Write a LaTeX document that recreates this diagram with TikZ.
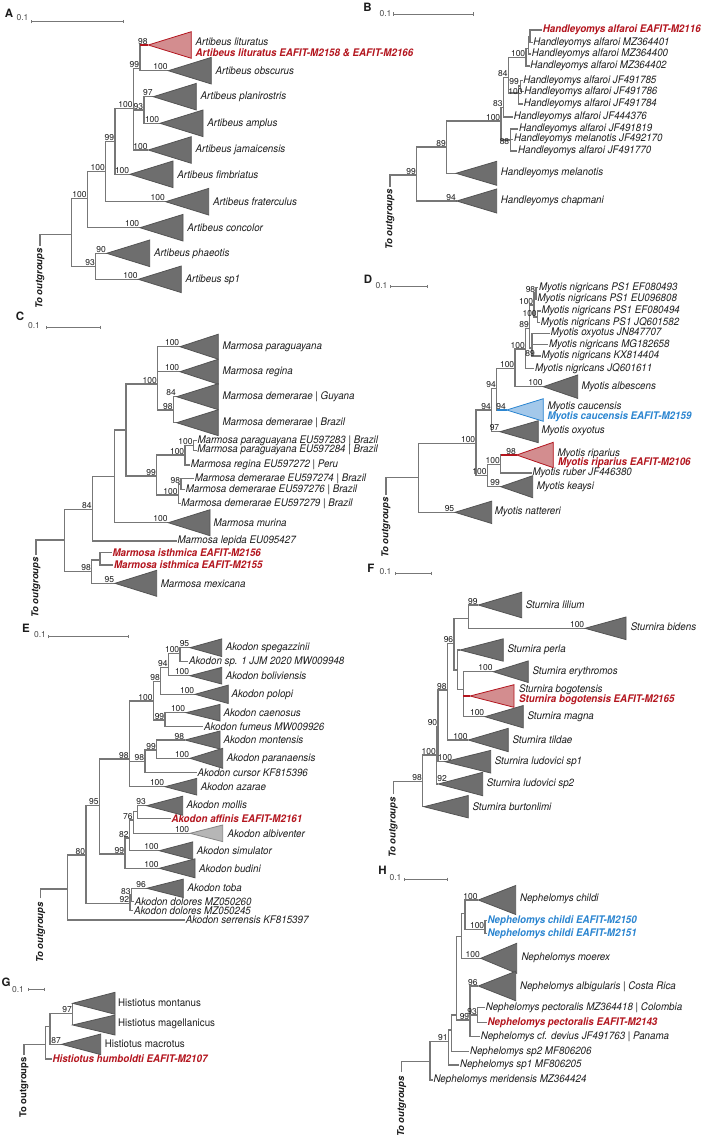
\documentclass[tikz,border=0pt]{standalone}
\usepackage{fontspec}
\setmainfont{TeX Gyre Heros}
\newfontfamily\taxfont{TeX Gyre Heros}[FakeStretch=0.93]
\usepackage{tikz}
\usetikzlibrary{arrows.meta}
\definecolor{BranchGray}{HTML}{777777}
\definecolor{CladeFill}{HTML}{6E6E6E}
\definecolor{CladeEdge}{HTML}{545454}
\definecolor{PaleFill}{HTML}{B6B6B6}
\definecolor{NewRed}{HTML}{B3151E}
\definecolor{NewRedFill}{HTML}{D38D8F}
\definecolor{NewBlue}{HTML}{2B85D0}
\definecolor{NewBlueFill}{HTML}{A3C8EA}
\definecolor{Ink}{HTML}{1C1C1C}
\tikzset{
  branchline/.style={draw=BranchGray, line width=1.2pt},
  cladetri/.style={draw=CladeEdge, fill=CladeFill, line width=0.8pt},
  redtri/.style={draw=NewRed, fill=NewRedFill, line width=0.8pt},
  bluetri/.style={draw=NewBlue, fill=NewBlueFill, line width=0.8pt},
  paletri/.style={draw=CladeEdge!70, fill=PaleFill, line width=0.8pt},
  taxon/.style={anchor=west, inner sep=0.6pt, text=Ink, font=\taxfont\fontsize{10.5}{11.5}\selectfont\itshape},
  taxonred/.style={taxon, text=NewRed, font=\taxfont\fontsize{10.5}{11.5}\selectfont\bfseries\itshape},
  taxonblue/.style={taxonred, text=NewBlue},
  taxonup/.style={taxon, font=\taxfont\fontsize{10.5}{11.5}\selectfont},
  support/.style={anchor=south east, inner sep=0.6pt, text=Ink, font=\fontsize{8.5}{9}\selectfont},
  outgroup/.style={rotate=90, anchor=east, inner sep=0pt, text=Ink, font=\fontsize{9.5}{10}\selectfont\bfseries\itshape},
  panellabel/.style={inner sep=0pt, text=Ink, font=\fontsize{11.5}{12}\selectfont\bfseries},
  scalelabel/.style={inner sep=0pt, text=Ink!80, font=\fontsize{8.5}{9}\selectfont},
  scalebar/.style={draw=BranchGray, line width=0.9pt, {Bar[width=3.5pt]}-{Bar[width=3.5pt]}}
}
% collapsed clade: apex, width, half height
\newcommand{\cladetriangle}[4][cladetri]{\draw[#1] (#2) -- ++(#3,-#4) -- ++(0,2*#4) -- cycle;}

\begin{document}
\begin{tikzpicture}[x=1pt, y=-1pt]
  \useasboundingbox (0,0) rectangle (709,1143);

  % A -- Artibeus
  \node[panellabel] (pA) at (9,13) {A};
  \node[scalelabel] (kA) at (22.5,17.5) {0.1};
  \coordinate (sbA1) at (31,21.7);
  \coordinate (sbA2) at (124,21.7);
  \draw[scalebar] (sbA1) -- (sbA2);

  \coordinate (aOut) at (40,246);
  \coordinate (aR) at (71.7,234.3);
  \coordinate (a1) at (87.3,198.3);
  \coordinate (a2) at (105.7,171.7);
  \coordinate (a3) at (115,141.7);
  \coordinate (a4) at (133.3,108.3);
  \coordinate (a5) at (140,68.3);
  \coordinate (a6) at (144,110);
  \coordinate (a7) at (95.7,266.7);
  \coordinate (aLit) at (148.3,45);
  \coordinate (aObs) at (168.3,70.7);
  \coordinate (aPla) at (153.3,96.7);
  \coordinate (aAmp) at (160,123.3);
  \coordinate (aJam) at (148.3,150);
  \coordinate (aFim) at (130,174.3);
  \coordinate (aFra) at (165.7,201.7);
  \coordinate (aCon) at (140,227.7);
  \coordinate (aPha) at (106.7,253.3);
  \coordinate (aSp1) at (138.3,279.3);

  \draw[branchline] (aOut) |- (aR);
  \draw[branchline] (aR) |- (a1) (aR) |- (a7);
  \draw[branchline] (a1) |- (a2) (a1) |- (aCon);
  \draw[branchline] (a2) |- (a3) (a2) |- (aFra);
  \draw[branchline] (a3) |- (a4) (a3) |- (aFim);
  \draw[branchline] (a4) |- (a5) (a4) |- (a6) (a4) |- (aJam);
  \draw[branchline] (a5) |- (aLit) (a5) |- (aObs);
  \draw[branchline, draw=NewRed] (aLit -| a5) -- (aLit);
  \draw[branchline] (a6) |- (aPla) (a6) |- (aAmp);
  \draw[branchline] (a7) |- (aPha) (a7) |- (aSp1);

  \cladetriangle[redtri]{aLit}{43}{13.3}
  \cladetriangle{aObs}{43}{13.3}
  \cladetriangle{aPla}{43}{13.3}
  \cladetriangle{aAmp}{43}{13.3}
  \cladetriangle{aJam}{43}{13.3}
  \cladetriangle{aFim}{43}{13.3}
  \cladetriangle{aFra}{43}{13.3}
  \cladetriangle{aCon}{43}{13.3}
  \cladetriangle{aPha}{43}{13.3}
  \cladetriangle{aSp1}{43}{13.3}

  \node[taxon] (nLit) at (194.8,42) {Artibeus lituratus};
  \node[taxonred] (nLitNew) at (194.8,52.5) {Artibeus lituratus EAFIT-M2158 \& EAFIT-M2166};
  \node[taxon] (nObs) at (214.8,70.7) {Artibeus obscurus};
  \node[taxon] (nPla) at (199.8,96.7) {Artibeus planirostris};
  \node[taxon] (nAmp) at (206.5,123.3) {Artibeus amplus};
  \node[taxon] (nJam) at (194.8,150) {Artibeus jamaicensis};
  \node[taxon] (nFim) at (176.5,174.3) {Artibeus fimbriatus};
  \node[taxon] (nFra) at (212.2,201.7) {Artibeus fraterculus};
  \node[taxon] (nCon) at (186.5,227.7) {Artibeus concolor};
  \node[taxon] (nPha) at (153.2,253.3) {Artibeus phaeotis};
  \node[taxon] (nSp1) at (184.8,279.3) {Artibeus sp1};

  \node[support] (bsA1) at (a1) {100};
  \node[support] (bsA2) at (a2) {100};
  \node[support] (bsA3) at (a3) {99};
  \node[support] (bsA4) at (a4) {100};
  \node[support] (bsA5) at (a5) {99};
  \node[support] (bsA6) at (a6) {93};
  \node[support] (bsA7) at (a7) {93};
  \node[support] (bsALit) at (aLit) {98};
  \node[support] (bsAObs) at (aObs) {100};
  \node[support] (bsAPla) at (aPla) {97};
  \node[support] (bsAAmp) at (aAmp) {100};
  \node[support] (bsAJam) at (aJam) {100};
  \node[support] (bsAFim) at (aFim) {100};
  \node[support] (bsAFra) at (aFra) {100};
  \node[support] (bsACon) at (aCon) {100};
  \node[support] (bsAPha) at (aPha) {90};
  \node[support] (bsASp1) at (aSp1) {100};
  \node[outgroup] (oA) at (40,248) {To outgroups};

  % B -- Handleyomys
  \node[panellabel] (pB) at (367.5,7) {B};
  \node[scalelabel] (kB) at (385.5,13.5) {0.1};
  \coordinate (sbB1) at (393.3,14);
  \coordinate (sbB2) at (474,14);
  \draw[scalebar] (sbB1) -- (sbB2);

  \coordinate (bOut) at (390,187);
  \coordinate (bR) at (416.7,175);
  \coordinate (b1) at (446.7,147);
  \coordinate (b2) at (501,121);
  \coordinate (b3) at (503.3,107.3);
  \coordinate (b4) at (508.3,77.3);
  \coordinate (b5) at (526,57.3);
  \coordinate (b6) at (518.5,93);
  \coordinate (b7) at (520.5,86);
  \coordinate (b8) at (510.7,140);
  \coordinate (b9) at (528.3,48.3);
  \coordinate (b10) at (530,36.7);
  \coordinate (bMel) at (456,173.3);
  \coordinate (bCha) at (456.7,201);

  \node[taxonred] (lB1) at (542,30) {Handleyomys alfaroi EAFIT-M2116};
  \node[taxon] (lB2) at (532.5,42.7) {Handleyomys alfaroi MZ364401};
  \node[taxon] (lB3) at (531,54) {Handleyomys alfaroi MZ364400};
  \node[taxon] (lB4) at (529.5,66) {Handleyomys alfaroi MZ364402};
  \node[taxon] (lB5) at (522.5,80.7) {Handleyomys alfaroi JF491785};
  \node[taxon] (lB6) at (523.5,91.7) {Handleyomys alfaroi JF491786};
  \node[taxon] (lB7) at (523,104) {Handleyomys alfaroi JF491784};
  \node[taxon] (lB8) at (513,117) {Handleyomys alfaroi JF444376};
  \node[taxon] (lB9) at (518.3,129) {Handleyomys alfaroi JF491819};
  \node[taxon] (lB10) at (513.3,139.3) {Handleyomys melanotis JF492170};
  \node[taxon] (lB11) at (517.3,151) {Handleyomys alfaroi JF491770};

  \draw[branchline] (bOut) |- (bR);
  \draw[branchline] (bR) |- (b1) (bR) |- (bCha);
  \draw[branchline] (b1) |- (b2) (b1) |- (bMel);
  \draw[branchline] (b2) |- (b3) (b2) |- (b8);
  \draw[branchline] (b3) |- (b4) (b3) |- (lB8.west);
  \draw[branchline] (b4) |- (b5) (b4) |- (b6);
  \draw[branchline] (b5) |- (b9) (b5) |- (lB4.west);
  \draw[branchline] (b9) |- (b10) (b9) |- (lB3.west);
  \draw[branchline] (b10) |- (lB1.west) (b10) |- (lB2.west);
  \draw[branchline] (b6) |- (b7) (b6) |- (lB7.west);
  \draw[branchline] (b7) |- (lB5.west) (b7) |- (lB6.west);
  \draw[branchline] (b8) |- (lB9.west) (b8) |- (lB10.west) (b8) |- (lB11.west);

  \cladetriangle{bMel}{40.7}{12}
  \cladetriangle{bCha}{40}{12}
  \node[taxon] (nMel) at (500,173.3) {Handleyomys melanotis};
  \node[taxon] (nCha) at (500,201) {Handleyomys chapmani};

  \node[support] (bsBR) at (bR) {99};
  \node[support] (bsB1) at (b1) {89};
  \node[support] (bsB2) at (b2) {100};
  \node[support] (bsB3) at (b3) {83};
  \node[support] (bsB4) at (b4) {84};
  \node[support] (bsB5) at (b5) {100};
  \node[support, anchor=center] (bsB6) at (515.5,92) {100};
  \node[support, anchor=center] (bsB7) at (514,82) {99};
  \node[support, anchor=east] (bsB8) at (510,141.5) {88};
  \node[support] (bsBCha) at (bCha) {94};
  \node[outgroup] (oB) at (390,189) {To outgroups};

  % C -- Marmosa
  \node[panellabel] (pC) at (20,316.5) {C};
  \node[scalelabel] (kC) at (34,325.5) {0.1};
  \coordinate (sbC1) at (46,327.3);
  \coordinate (sbC2) at (100.7,327.3);
  \draw[scalebar] (sbC1) -- (sbC2);

  \coordinate (cOut) at (36,555);
  \coordinate (cR) at (64.3,540);
  \coordinate (c1) at (92.3,509.3);
  \coordinate (c2) at (114.3,476.7);
  \coordinate (c3) at (126,430);
  \coordinate (c4) at (157.7,384);
  \coordinate (c5) at (173.3,410);
  \coordinate (c6) at (156.7,476);
  \coordinate (c7) at (185,455);
  \coordinate (c8) at (193.3,445.5);
  \coordinate (c9) at (178.3,495);
  \coordinate (c10) at (181,484);
  \coordinate (c11) at (91.7,571.7);
  \coordinate (c12) at (100,560);
  \coordinate (cPar) at (180,346.7);
  \coordinate (cReg) at (180,371.7);
  \coordinate (cDemG) at (176.7,396.7);
  \coordinate (cDemB) at (176.7,422.7);
  \coordinate (cMur) at (168.3,522.7);
  \coordinate (cMex) at (115,583.3);

  \node[taxon] (lC1) at (196.7,440.7) {Marmosa paraguayana EU597283 | Brazil};
  \node[taxon] (lC2) at (196.5,450.3) {Marmosa paraguayana EU597284 | Brazil};
  \node[taxon] (lC3) at (190,465) {Marmosa regina EU597272 | Peru};
  \node[taxon] (lC4) at (194,478.3) {Marmosa demerarae EU597274 | Brazil};
  \node[taxon] (lC5) at (185,489.3) {Marmosa demerarae EU597276 | Brazil};
  \node[taxon] (lC6) at (180.5,503.3) {Marmosa demerarae EU597279 | Brazil};
  \node[taxon] (lC7) at (176.7,541) {Marmosa lepida EU095427};
  \node[taxonred] (lC8) at (111.7,552.7) {Marmosa isthmica EAFIT-M2156};
  \node[taxonred] (lC9) at (113.3,565) {Marmosa isthmica EAFIT-M2155};

  \draw[branchline] (cOut) |- (cR);
  \draw[branchline] (cR) |- (c1) (cR) |- (c11);
  \draw[branchline] (c1) |- (c2) (c1) |- (lC7.west);
  \draw[branchline] (c2) |- (c3) (c2) |- (cMur);
  \draw[branchline] (c3) |- (c4) (c3) |- (c6);
  \draw[branchline] (c4) |- (cPar) (c4) |- (cReg) (c4) |- (c5);
  \draw[branchline] (c5) |- (cDemG) (c5) |- (cDemB);
  \draw[branchline] (c6) |- (c7) (c6) |- (c9);
  \draw[branchline] (c7) |- (c8) (c7) |- (lC3.west);
  \draw[branchline] (c8) |- (lC1.west) (c8) |- (lC2.west);
  \draw[branchline] (c9) |- (c10) (c9) |- (lC6.west);
  \draw[branchline] (c10) |- (lC4.west) (c10) |- (lC5.west);
  \draw[branchline] (c11) |- (c12) (c11) |- (cMex);
  \draw[branchline] (c12) |- (lC8.west) (c12) |- (lC9.west);

  \cladetriangle{cPar}{38.3}{12.5}
  \cladetriangle{cReg}{38.3}{12.5}
  \cladetriangle{cDemG}{41.6}{13}
  \cladetriangle{cDemB}{41.6}{13}
  \cladetriangle{cMur}{41.7}{13}
  \cladetriangle{cMex}{41.7}{13}
  \node[taxon] (nPar) at (221.7,346.7) {Marmosa paraguayana};
  \node[taxon] (nReg) at (221.7,371.7) {Marmosa regina};
  \node[taxon] (nDemG) at (221.7,396.7) {Marmosa demerarae | Guyana};
  \node[taxon] (nDemB) at (221.7,422.7) {Marmosa demerarae | Brazil};
  \node[taxon] (nMur) at (212.7,522.7) {Marmosa murina};
  \node[taxon] (nMex) at (160,583.3) {Marmosa mexicana};

  \node[support] (bsC1) at (c1) {84};
  \node[support] (bsC4) at (c4) {100};
  \node[support] (bsC5) at (c5) {98};
  \node[support] (bsC6) at (c6) {99};
  \node[support] (bsC7) at (c7) {100};
  \node[support] (bsC8) at (c8) {100};
  \node[support] (bsC9) at (c9) {100};
  \node[support] (bsC10) at (c10) {98};
  \node[support] (bsC11) at (c11) {98};
  \node[support] (bsCPar) at (cPar) {100};
  \node[support] (bsCReg) at (cReg) {100};
  \node[support] (bsCDemG) at (cDemG) {84};
  \node[support] (bsCMur) at (cMur) {100};
  \node[support] (bsCMex) at (cMex) {95};
  \node[outgroup] (oC) at (36,557) {To outgroups};

  % D -- Myotis
  \node[panellabel] (pD) at (368,279) {D};
  \node[scalelabel] (kD) at (381.5,286) {0.1};
  \coordinate (sbD1) at (390,286.7);
  \coordinate (sbD2) at (427.7,286.7);
  \draw[scalebar] (sbD1) -- (sbD2);

  \coordinate (dOut) at (386,495);
  \coordinate (dR) at (418.3,477.7);
  \coordinate (d1) at (476,443.3);
  \coordinate (d2) at (491.7,410);
  \coordinate (d3) at (496.7,388.3);
  \coordinate (d4) at (515,368.3);
  \coordinate (d5) at (525.7,349);
  \coordinate (d6) at (529.7,328.3);
  \coordinate (d7) at (532,348);
  \coordinate (d8) at (534,305);
  \coordinate (d9) at (536,293);
  \coordinate (d10) at (537.5,317);
  \coordinate (d11) at (487.3,475.7);
  \coordinate (d12) at (500.7,464.3);
  \coordinate (dAlb) at (543.3,386.7);
  \coordinate (dCau) at (506.7,410);
  \coordinate (dOxy) at (500,431.7);
  \coordinate (dRip) at (516.7,455);
  \coordinate (dKea) at (500.7,486.7);
  \coordinate (dNat) at (455,512.3);

  \node[taxon] (lD1) at (538.3,287.7) {Myotis nigricans PS1 EF080493};
  \node[taxon] (lD2) at (536.7,299) {Myotis nigricans PS1 EU096808};
  \node[taxon] (lD3) at (540.7,311) {Myotis nigricans PS1 EF080494};
  \node[taxon] (lD4) at (540,322.7) {Myotis nigricans PS1 JQ601582};
  \node[taxon] (lD5) at (550,333.3) {Myotis oxyotus JN847707};
  \node[taxon] (lD6) at (548.3,344.3) {Myotis nigricans MG182658};
  \node[taxon] (lD7) at (540.7,356) {Myotis nigricans KX814404};
  \node[taxon] (lD8) at (534.3,368.3) {Myotis nigricans JQ601611};
  \node[taxon] (lD9) at (531.7,473) {Myotis ruber JF446380};

  \draw[branchline] (dOut) |- (dR);
  \draw[branchline] (dR) |- (d1) (dR) |- (dNat);
  \draw[branchline] (d1) |- (d2) (d1) |- (d11);
  \draw[branchline] (d2) |- (d3) (d2) |- (dOxy);
  \draw[branchline] (d3) |- (d4) (d3) |- (dCau);
  \draw[branchline, draw=NewBlue] (dCau -| d3) -- (dCau);
  \draw[branchline] (d4) |- (d5) (d4) |- (dAlb);
  \draw[branchline] (d5) |- (d6) (d5) |- (lD8.west);
  \draw[branchline] (d6) |- (d8) (d6) |- (d7);
  \draw[branchline] (d7) |- (lD5.west) (d7) |- (lD6.west) (d7) |- (lD7.west);
  \draw[branchline] (d8) |- (d9) (d8) |- (d10);
  \draw[branchline] (d9) |- (lD1.west) (d9) |- (lD2.west);
  \draw[branchline] (d10) |- (lD3.west) (d10) |- (lD4.west);
  \draw[branchline] (d11) |- (d12) (d11) |- (dKea);
  \draw[branchline] (d12) |- (dRip) (d12) |- (lD9.west);
  \draw[branchline, draw=NewRed] (dRip -| d12) -- (dRip);

  \cladetriangle{dAlb}{34.4}{11.7}
  \cladetriangle[bluetri]{dCau}{36.6}{11.3}
  \cladetriangle{dOxy}{38.3}{11}
  \cladetriangle[redtri]{dRip}{36.6}{12.7}
  \cladetriangle{dKea}{32}{11}
  \cladetriangle{dNat}{36.7}{11.2}
  \node[taxon] (nAlb) at (580.7,386.7) {Myotis albescens};
  \node[taxon] (nCau) at (546.7,407) {Myotis caucensis};
  \node[taxonblue] (nCauNew) at (546.7,417) {Myotis caucensis EAFIT-M2159};
  \node[taxon] (nOxy) at (540.7,430.7) {Myotis oxyotus};
  \node[taxon] (nRip) at (556.7,453.5) {Myotis riparius};
  \node[taxonred] (nRipNew) at (557.3,463) {Myotis riparius EAFIT-M2106};
  \node[taxon] (nKea) at (536,487.3) {Myotis keaysi};
  \node[taxon] (nNat) at (494,511.5) {Myotis nattereri};

  \node[support] (bsD1) at (d1) {100};
  \node[support] (bsD2) at (d2) {94};
  \node[support] (bsD3) at (d3) {94};
  \node[support] (bsD4) at (d4) {100};
  \node[support] (bsD5) at (d5) {100};
  \node[support] (bsD6) at (d6) {89};
  \node[support, anchor=center] (bsD7) at (530,353.3) {89};
  \node[support] (bsD8) at (d8) {100};
  \node[support] (bsD9) at (d9) {98};
  \node[support] (bsD10) at (d10) {100};
  \node[support] (bsD11) at (d11) {100};
  \node[support] (bsD12) at (d12) {100};
  \node[support] (bsDAlb) at (dAlb) {100};
  \node[support] (bsDCau) at (dCau) {94};
  \node[support] (bsDOxy) at (dOxy) {97};
  \node[support] (bsDRip) at (dRip) {98};
  \node[support] (bsDKea) at (dKea) {99};
  \node[support] (bsDNat) at (dNat) {95};
  \node[outgroup] (oD) at (386,497) {To outgroups};

  % E -- Akodon
  \node[panellabel] (pE) at (26,628) {E};
  \node[scalelabel] (kE) at (40,635) {0.1};
  \coordinate (sbE1) at (48.3,636.7);
  \coordinate (sbE2) at (129.3,636.7);
  \draw[scalebar] (sbE1) -- (sbE2);

  \coordinate (eOut) at (40.7,898.3);
  \coordinate (eR) at (67.7,889);
  \coordinate (e1) at (86,855);
  \coordinate (e2) at (99.3,805.7);
  \coordinate (e3) at (129.3,759);
  \coordinate (e4) at (153.3,701);
  \coordinate (e5) at (160.7,681.7);
  \coordinate (e6) at (168.3,667.7);
  \coordinate (e7) at (180,653.3);
  \coordinate (e8) at (165,720);
  \coordinate (e9) at (145,761.7);
  \coordinate (e10) at (156.7,750);
  \coordinate (e11) at (125,854);
  \coordinate (e12) at (129.3,838);
  \coordinate (e13) at (133.3,820);
  \coordinate (e14) at (137.7,811.7);
  \coordinate (e15) at (130,903.3);
  \coordinate (e16) at (131.5,895);
  \coordinate (eSpe) at (190,647.7);
  \coordinate (eBol) at (190,675.7);
  \coordinate (ePol) at (195,694.3);
  \coordinate (eCae) at (186,712.7);
  \coordinate (eMon) at (185,740);
  \coordinate (ePara) at (190,758.3);
  \coordinate (eAza) at (165,786.7);
  \coordinate (eMol) at (146.7,805.7);
  \coordinate (eAlbv) at (190,833.3);
  \coordinate (eSim) at (159.3,850.7);
  \coordinate (eBud) at (159.3,868.3);
  \coordinate (eTob) at (146.7,888.3);

  \node[taxon] (lE1) at (188.3,661.7) {Akodon sp. 1 JJM 2020 MW009948};
  \node[taxon] (lE2) at (203.3,726.7) {Akodon fumeus MW009926};
  \node[taxon] (lE3) at (196.7,772.3) {Akodon cursor KF815396};
  \node[taxonred] (lE4) at (170.7,818.3) {Akodon affinis EAFIT-M2161};
  \node[taxon] (lE5) at (134,901.7) {Akodon dolores MZ050260};
  \node[taxon] (lE6) at (133.3,910.7) {Akodon dolores MZ050245};
  \node[taxon] (lE7) at (185,920) {Akodon serrensis KF815397};

  \draw[branchline] (eOut) |- (eR);
  \draw[branchline] (eR) |- (e1) (eR) |- (lE7.west);
  \draw[branchline] (e1) |- (e2) (e1) |- (e15);
  \draw[branchline] (e2) |- (e3) (e2) |- (e11);
  \draw[branchline] (e3) |- (e4) (e3) |- (e9) (e3) |- (eAza);
  \draw[branchline] (e4) |- (e5) (e4) |- (e8);
  \draw[branchline] (e5) |- (e6) (e5) |- (ePol);
  \draw[branchline] (e6) |- (e7) (e6) |- (eBol);
  \draw[branchline] (e7) |- (eSpe) (e7) |- (lE1.west);
  \draw[branchline] (e8) |- (eCae) (e8) |- (lE2.west);
  \draw[branchline] (e9) |- (e10) (e9) |- (lE3.west);
  \draw[branchline] (e10) |- (eMon) (e10) |- (ePara);
  \draw[branchline] (e11) |- (e12) (e11) |- (eBud);
  \draw[branchline] (e12) |- (e13) (e12) |- (eSim);
  \draw[branchline] (e13) |- (e14) (e13) |- (eAlbv);
  \draw[branchline] (e14) |- (eMol) (e14) |- (lE4.west);
  \draw[branchline] (e15) |- (e16) (e15) |- (lE6.west);
  \draw[branchline] (e16) |- (eTob) (e16) |- (lE5.west);

  \cladetriangle{eSpe}{31.7}{8.8}
  \cladetriangle{eBol}{31.7}{8.3}
  \cladetriangle{ePol}{33.3}{9.2}
  \cladetriangle{eCae}{34}{8.3}
  \cladetriangle{eMon}{35}{9}
  \cladetriangle{ePara}{32.7}{10}
  \cladetriangle{eAza}{31.7}{8.3}
  \cladetriangle{eMol}{36}{9.5}
  \cladetriangle[paletri]{eAlbv}{32.7}{8.3}
  \cladetriangle{eSim}{33.4}{8.8}
  \cladetriangle{eBud}{35.7}{9.5}
  \cladetriangle{eTob}{36.6}{9.2}
  \node[taxon] (nSpe) at (225,647.7) {Akodon spegazzinii};
  \node[taxon] (nBol) at (225,675.7) {Akodon boliviensis};
  \node[taxon] (nPol) at (230.7,694.3) {Akodon polopi};
  \node[taxon] (nCae) at (222.7,712.7) {Akodon caenosus};
  \node[taxon] (nMon) at (222.7,740) {Akodon montensis};
  \node[taxon] (nPara) at (226,758.3) {Akodon paranaensis};
  \node[taxon] (nAza) at (200,786.7) {Akodon azarae};
  \node[taxon] (nMol) at (185.7,805) {Akodon mollis};
  \node[taxon] (nAlbv) at (226.7,833.3) {Akodon albiventer};
  \node[taxon] (nSim) at (196,850.7) {Akodon simulator};
  \node[taxon] (nBud) at (198.3,868.3) {Akodon budini};
  \node[taxon] (nTob) at (186.7,887.3) {Akodon toba};

  \node[support] (bsE1) at (e1) {80};
  \node[support] (bsE2) at (e2) {95};
  \node[support] (bsE3) at (e3) {98};
  \node[support] (bsE4) at (e4) {100};
  \node[support] (bsE5) at (e5) {98};
  \node[support] (bsE6) at (e6) {94};
  \node[support] (bsE7) at (e7) {100};
  \node[support] (bsE8) at (e8) {99};
  \node[support] (bsE9) at (e9) {98};
  \node[support] (bsE10) at (e10) {99};
  \node[support] (bsE11) at (e11) {99};
  \node[support] (bsE12) at (e12) {82};
  \node[support] (bsE13) at (e13) {76};
  \node[support] (bsE15) at (e15) {92};
  \node[support] (bsE16) at (e16) {83};
  \node[support] (bsESpe) at (eSpe) {95};
  \node[support] (bsEBol) at (eBol) {100};
  \node[support] (bsEPol) at (ePol) {100};
  \node[support] (bsECae) at (eCae) {100};
  \node[support] (bsEMon) at (eMon) {98};
  \node[support] (bsEPara) at (ePara) {100};
  \node[support] (bsEAza) at (eAza) {100};
  \node[support] (bsEMol) at (eMol) {93};
  \node[support] (bsEAlbv) at (eAlbv) {100};
  \node[support] (bsESim) at (eSim) {100};
  \node[support] (bsEBud) at (eBud) {100};
  \node[support] (bsETob) at (eTob) {96};
  \node[outgroup] (oE) at (40.7,902) {To outgroups};

  % F -- Sturnira
  \node[panellabel] (pF) at (371,568.5) {F};
  \node[scalelabel] (kF) at (385.5,572) {0.1};
  \coordinate (sbF1) at (395,573.3);
  \coordinate (sbF2) at (431.7,573.3);
  \draw[scalebar] (sbF1) -- (sbF2);

  \coordinate (fOut) at (393.3,794);
  \coordinate (fR) at (422.7,781.7);
  \coordinate (f1) at (436.7,755);
  \coordinate (f2) at (438,726.7);
  \coordinate (f3) at (447.3,690);
  \coordinate (f4) at (454,643.3);
  \coordinate (f5) at (468.3,618.3);
  \coordinate (f6) at (457.3,670);
  \coordinate (f7) at (463.3,689.3);
  \coordinate (fLil) at (478.3,605);
  \coordinate (fBid) at (585,628.3);
  \coordinate (fPer) at (460,650);
  \coordinate (fEry) at (493.3,671.7);
  \coordinate (fBog) at (470,696);
  \coordinate (fMag) at (485,716.7);
  \coordinate (fTil) at (468.3,740);
  \coordinate (fLud1) at (445,761.7);
  \coordinate (fLud2) at (438.3,784);
  \coordinate (fBur) at (424,806.7);

  \draw[branchline] (fOut) |- (fR);
  \draw[branchline] (fR) |- (f1) (fR) |- (fBur);
  \draw[branchline] (f1) |- (f2) (f1) |- (fLud2);
  \draw[branchline] (f2) |- (f3) (f2) |- (fLud1);
  \draw[branchline] (f3) |- (f4) (f3) |- (fTil);
  \draw[branchline] (f4) |- (f5) (f4) |- (f6);
  \draw[branchline] (f5) |- (fLil) (f5) |- (fBid);
  \draw[branchline] (f6) |- (fPer) (f6) |- (f7);
  \draw[branchline] (f7) |- (fEry) (f7) |- (fBog) (f7) |- (fMag);
  \draw[branchline, draw=NewRed] (fBog -| f7) -- (fBog);

  \cladetriangle{fLil}{43.4}{12.8}
  \cladetriangle{fBid}{41}{11.3}
  \cladetriangle{fPer}{43.3}{11.2}
  \cladetriangle{fEry}{35}{10.8}
  \cladetriangle[redtri]{fBog}{44}{11.3}
  \cladetriangle{fMag}{38.3}{11.2}
  \cladetriangle{fTil}{40}{11.7}
  \cladetriangle{fLud1}{45.7}{11.3}
  \cladetriangle{fLud2}{44.4}{11.7}
  \cladetriangle{fBur}{44.3}{11.2}
  \node[taxon] (nLil) at (525,604.3) {Sturnira lilium};
  \node[taxon] (nBid) at (630,626.7) {Sturnira bidens};
  \node[taxon] (nPer) at (506.7,649.3) {Sturnira perla};
  \node[taxon] (nEry) at (531.7,671.7) {Sturnira erythromos};
  \node[taxon] (nBog) at (518.3,689.3) {Sturnira bogotensis};
  \node[taxonred] (nBogNew) at (518.3,699.7) {Sturnira bogotensis EAFIT-M2165};
  \node[taxon] (nMag) at (526.7,716.7) {Sturnira magna};
  \node[taxon] (nTil) at (511.7,740) {Sturnira tildae};
  \node[taxon] (nLud1) at (494,761.7) {Sturnira ludovici sp1};
  \node[taxon] (nLud2) at (486,783.3) {Sturnira ludovici sp2};
  \node[taxon] (nBur) at (471.7,806.7) {Sturnira burtonlimi};

  \node[support] (bsFR) at (fR) {98};
  \node[support] (bsF1) at (f1) {100};
  \node[support] (bsF2) at (f2) {90};
  \node[support] (bsF3) at (f3) {98};
  \node[support] (bsF4) at (f4) {96};
  \node[support] (bsFLil) at (fLil) {99};
  \node[support] (bsFBid) at (fBid) {100};
  \node[support] (bsFEry) at (fEry) {100};
  \node[support] (bsFMag) at (fMag) {100};
  \node[support] (bsFTil) at (fTil) {100};
  \node[support, anchor=center] (bsFLud1) at (445,757.5) {100};
  \node[support, anchor=center] (bsFLud2) at (442,778.3) {92};
  \node[outgroup] (oF) at (393.3,797) {To outgroups};

  % G -- Histiotus
  \node[panellabel] (pG) at (6,982) {G};
  \node[scalelabel] (kG) at (18,989.5) {0.1};
  \coordinate (sbG1) at (28.3,989.3);
  \coordinate (sbG2) at (45,989.3);
  \draw[scalebar] (sbG1) -- (sbG2);

  \coordinate (gOut) at (24,1055);
  \coordinate (gR) at (45.7,1044.3);
  \coordinate (g1) at (50,1026.7);
  \coordinate (g2) at (72.7,1013.3);
  \coordinate (gMon) at (72.7,1003.3);
  \coordinate (gMag) at (72.7,1025);
  \coordinate (gMac) at (61.7,1044.3);
  \node[taxonred] (lG1) at (51.7,1059) {Histiotus humboldti EAFIT-M2107};

  \draw[branchline] (gOut) |- (gR);
  \draw[branchline] (gR) |- (g1) (gR) |- (lG1.west);
  \draw[branchline] (g1) |- (g2) (g1) |- (gMac);
  \draw[branchline] (g2) |- (gMon) (g2) |- (gMag);

  \cladetriangle{gMon}{42.3}{11}
  \cladetriangle{gMag}{42.3}{10}
  \cladetriangle{gMac}{39}{10.3}
  \node[taxonup] (nGMon) at (117.3,1002.3) {Histiotus montanus};
  \node[taxonup] (nGMag) at (117.3,1024.3) {Histiotus magellanicus};
  \node[taxonup] (nGMac) at (104,1043.3) {Histiotus macrotus};

  \node[support] (bsG2) at (g2) {97};
  \node[support] (bsGMac) at (gMac) {87};
  \node[outgroup, font=\fontsize{9.5}{10}\selectfont\bfseries] (oG) at (24,1057) {To outgroups};

  % H -- Nephelomys
  \node[panellabel] (pH) at (382.5,870) {H};
  \node[scalelabel] (kH) at (395.5,878) {0.1};
  \coordinate (sbH1) at (404,879.3);
  \coordinate (sbH2) at (448.3,879.3);
  \draw[scalebar] (sbH1) -- (sbH2);

  \coordinate (hOut) at (401.7,1071.7);
  \coordinate (hR) at (430,1061.7);
  \coordinate (h1) at (448.3,1041.7);
  \coordinate (h2) at (451.7,1030);
  \coordinate (h3) at (456.7,1015);
  \coordinate (h4) at (461.7,936.7);
  \coordinate (h5) at (465,913.3);
  \coordinate (h6) at (485,929.3);
  \coordinate (h7) at (470,1020);
  \coordinate (h8) at (477.7,1015);
  \coordinate (hChi) at (478.3,900);
  \coordinate (hMoe) at (480.7,958.3);
  \coordinate (hAlb) at (478.3,986);

  \node[taxonblue] (lH1) at (486.7,920.7) {Nephelomys childi EAFIT-M2150};
  \node[taxonblue] (lH2) at (486.7,933.3) {Nephelomys childi EAFIT-M2151};
  \node[taxon] (lH4) at (485,1007.3) {Nephelomys pectoralis MZ364418 | Colombia};
  \node[taxonred] (lH5) at (486.7,1022.7) {Nephelomys pectoralis EAFIT-M2143};
  \node[taxon] (lH6) at (480,1036.7) {Nephelomys cf. devius JF491763 | Panama};
  \node[taxon] (lH7) at (469.3,1051.7) {Nephelomys sp2 MF806206};
  \node[taxon] (lH8) at (459.3,1065) {Nephelomys sp1 MF806205};
  \node[taxon] (lH9) at (432.7,1080) {Nephelomys meridensis MZ364424};

  \draw[branchline] (hOut) |- (hR);
  \draw[branchline] (hR) |- (h1) (hR) |- (lH9.west);
  \draw[branchline] (h1) |- (h2) (h1) |- (lH8.west);
  \draw[branchline] (h2) |- (h3) (h2) |- (lH7.west);
  \draw[branchline] (h3) |- (h4) (h3) |- (h7);
  \draw[branchline] (h4) |- (h5) (h4) |- (hMoe);
  \draw[branchline] (h5) |- (hChi) (h5) |- (h6);
  \draw[branchline] (h6) |- (lH1.west) (h6) |- (lH2.west);
  \draw[branchline] (h7) |- (hAlb) (h7) |- (h8) (h7) |- (lH6.west);
  \draw[branchline] (h8) |- (lH4.west) (h8) |- (lH5.west);

  \cladetriangle{hChi}{37.4}{14.5}
  \cladetriangle{hMoe}{36}{15}
  \cladetriangle{hAlb}{37.4}{14.7}
  \node[taxon] (nChi) at (519.3,899.3) {Nephelomys childi};
  \node[taxon] (nMoe) at (520.7,957.7) {Nephelomys moerex};
  \node[taxon] (nAlbg) at (519.3,986.7) {Nephelomys albigularis | Costa Rica};

  \node[support] (bsH1) at (h1) {91};
  \node[support] (bsH6) at (h6) {100};
  \node[support] (bsH7) at (h7) {99};
  \node[support] (bsH8) at (h8) {93};
  \node[support] (bsHChi) at (hChi) {100};
  \node[support] (bsHMoe) at (hMoe) {100};
  \node[support] (bsHAlb) at (hAlb) {96};
  \node[outgroup] (oH) at (401.7,1076) {To outgroups};
\end{tikzpicture}
\end{document}
